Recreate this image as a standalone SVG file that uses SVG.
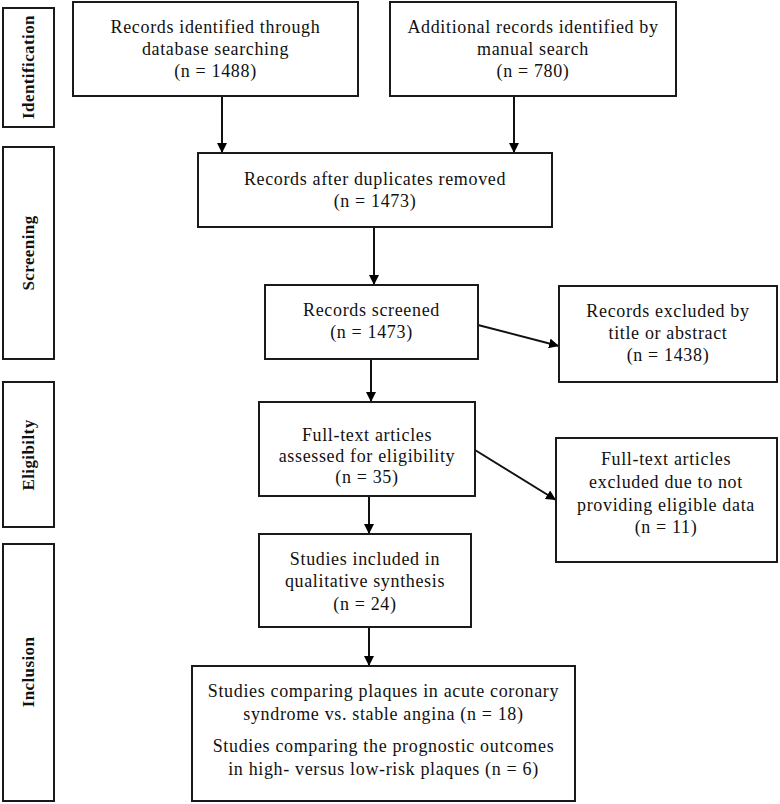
<svg xmlns="http://www.w3.org/2000/svg" width="780" height="804" viewBox="0 0 780 804">
  <defs>
    <marker id="arrow" viewBox="0 0 10 10" refX="10" refY="5" markerWidth="10" markerHeight="10" markerUnits="userSpaceOnUse" orient="auto">
      <path d="M0,0 L10,5 L0,10 z" fill="#000"/>
    </marker>
  </defs>
  <style>
    .box { fill: #fff; stroke: #1a1a1a; stroke-width: 2; }
    .t { font-family: "Liberation Serif", "Times New Roman", serif; font-size: 18px; letter-spacing: 0.65px; fill: #111; text-anchor: middle; }
    .side { font-family: "Liberation Serif", "Times New Roman", serif; font-size: 17px; font-weight: bold; letter-spacing: 0.4px; fill: #111; text-anchor: middle; }
    .conn { stroke: #111; stroke-width: 2; fill: none; marker-end: url(#arrow); }
  </style>
  <rect width="780" height="804" fill="#fff"/>

  <g id="stage-identification">
    <rect class="box" x="3" y="8" width="51" height="119"/>
    <text class="side" transform="translate(34,67) rotate(-90)">Identification</text>
  </g>
  <g id="stage-screening">
    <rect class="box" x="3" y="147" width="51" height="212"/>
    <text class="side" transform="translate(34,253) rotate(-90)">Screening</text>
  </g>
  <g id="stage-eligibility">
    <rect class="box" x="3" y="382" width="51" height="145"/>
    <text class="side" transform="translate(34,455) rotate(-90)">Eligibilty</text>
  </g>
  <g id="stage-inclusion">
    <rect class="box" x="3" y="544" width="51" height="257"/>
    <text class="side" transform="translate(34,672) rotate(-90)">Inclusion</text>
  </g>

  <g id="connectors">
    <line class="conn" x1="222" y1="96" x2="222" y2="153"/>
    <line class="conn" x1="514" y1="96" x2="514" y2="153"/>
    <line class="conn" x1="374" y1="227" x2="374" y2="285"/>
    <line class="conn" x1="371" y1="359" x2="371" y2="402"/>
    <line class="conn" x1="369" y1="496" x2="369" y2="534"/>
    <line class="conn" x1="369" y1="627" x2="369" y2="666"/>
    <line class="conn" x1="478" y1="325" x2="559" y2="346"/>
    <line class="conn" x1="475" y1="450" x2="556" y2="500"/>
  </g>

  <g id="db-search">
    <rect class="box" x="73" y="2" width="285" height="94"/>
    <text class="t" x="215.5" y="33">Records identified through</text>
    <text class="t" x="215.5" y="55">database searching</text>
    <text class="t" x="215.5" y="77">(n = 1488)</text>
  </g>
  <g id="manual-search">
    <rect class="box" x="390" y="2" width="286" height="94"/>
    <text class="t" x="533" y="33">Additional records identified by</text>
    <text class="t" x="533" y="55">manual search</text>
    <text class="t" x="533" y="77">(n = 780)</text>
  </g>
  <g id="after-duplicates">
    <rect class="box" x="198" y="153" width="354" height="74"/>
    <text class="t" x="375" y="185">Records after duplicates removed</text>
    <text class="t" x="375" y="207">(n = 1473)</text>
  </g>
  <g id="screened">
    <rect class="box" x="265" y="285" width="213" height="74"/>
    <text class="t" x="371.5" y="316">Records screened</text>
    <text class="t" x="371.5" y="338">(n = 1473)</text>
  </g>
  <g id="excluded-title">
    <rect class="box" x="559" y="286" width="218" height="96"/>
    <text class="t" x="668" y="317">Records excluded by</text>
    <text class="t" x="668" y="339">title or abstract</text>
    <text class="t" x="668" y="361">(n = 1438)</text>
  </g>
  <g id="full-text">
    <rect class="box" x="259" y="402" width="216" height="94"/>
    <text class="t" x="367" y="441">Full-text articles</text>
    <text class="t" x="367" y="462">assessed for eligibility</text>
    <text class="t" x="367" y="483">(n = 35)</text>
  </g>
  <g id="excluded-fulltext">
    <rect class="box" x="556" y="438" width="221" height="124"/>
    <text class="t" x="666" y="465">Full-text articles</text>
    <text class="t" x="666" y="488">excluded due to not</text>
    <text class="t" x="666" y="511">providing eligible data</text>
    <text class="t" x="666" y="533">(n = 11)</text>
  </g>
  <g id="included">
    <rect class="box" x="259" y="534" width="212" height="93"/>
    <text class="t" x="365" y="565">Studies included in</text>
    <text class="t" x="365" y="587">qualitative synthesis</text>
    <text class="t" x="365" y="610">(n = 24)</text>
  </g>
  <g id="final">
    <rect class="box" x="192" y="666" width="383" height="135"/>
    <text class="t" x="383.5" y="697">Studies comparing plaques in acute coronary</text>
    <text class="t" x="383.5" y="720">syndrome vs. stable angina (n = 18)</text>
    <text class="t" x="383.5" y="752">Studies comparing the prognostic outcomes</text>
    <text class="t" x="383.5" y="775">in high- versus low-risk plaques (n = 6)</text>
  </g>
</svg>
